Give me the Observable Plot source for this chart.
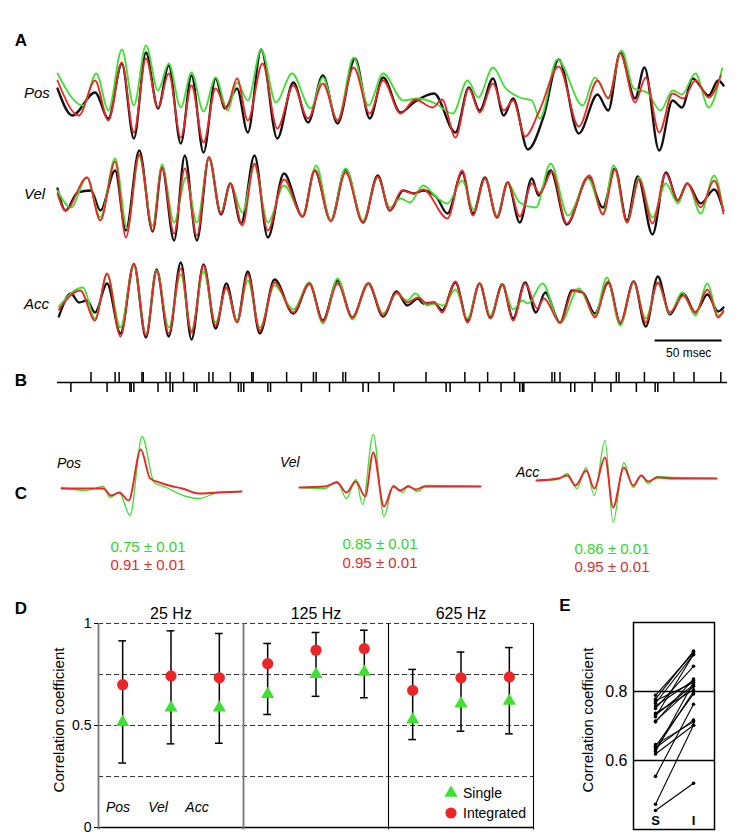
<!DOCTYPE html>
<html><head><meta charset="utf-8">
<script src="https://cdn.jsdelivr.net/npm/d3@7"></script>
<script src="https://cdn.jsdelivr.net/npm/@observablehq/plot@0.6"></script>
<style>
body{margin:0;background:#fff;}
#fig{position:relative;width:750px;height:840px;overflow:hidden;font-family:"Liberation Sans",Arial,Helvetica,sans-serif;color:#000;background:#fff;}
.lab{position:absolute;transform:translate(-50%,-50%);white-space:nowrap;line-height:1;}
.labl{position:absolute;transform:translate(0,-50%);white-space:nowrap;line-height:1;}
.rot{position:absolute;transform:translate(-50%,-50%) rotate(-90deg);white-space:nowrap;line-height:1;}
svg{overflow:visible;}
</style></head><body><div id="fig"></div><script>
// ---------------- DATA ----------------
// Panel A: time (ms) / normalized amplitude, read at extrema of the traces
const posActual = [[0,12],[11,-15],[28,8],[38,-18],[48,37],[57,-38],[66,48],[75,-8],[83,35],[92,-43],[100,25],[109,-52],[118,22],[125,-8],[134,12],[142,-32],[152,51],[164,-38],[176,18],[187,-22],[198,25],[209,-23],[222,42],[233,-18],[243,23],[256,-12],[266,-2],[281,7],[297,-32],[307,13],[315,-10],[325,22],[333,-15],[340,2],[351,-49],[363,-15],[374,41],[389,-33],[403,6],[411,-10],[420,48],[431,2],[438,33],[449,-50],[459,0],[466,-7],[474,22],[486,5],[493,20],[497,15]];
const posSingle = [[0,27],[19,-5],[29,27],[38,-10],[48,51],[57,-5],[66,55],[75,10],[83,37],[92,-7],[100,28],[109,-11],[118,23],[127,-10],[134,18],[142,0],[152,51],[163,-2],[175,27],[189,-8],[198,23],[209,-20],[221,43],[232,-5],[243,27],[258,0],[269,2],[282,-3],[295,-13],[306,20],[314,3],[325,33],[334,13],[345,3],[354,0],[360,-18],[373,41],[392,-5],[401,23],[411,3],[421,50],[430,12],[440,8],[450,-10],[459,10],[466,6],[476,27],[486,-7],[496,32]];
const posIntegrated = [[0,20],[16,-15],[28,20],[38,-20],[48,38],[57,-32],[66,42],[75,-7],[83,27],[92,-37],[100,15],[109,-42],[118,12],[126,-8],[134,22],[142,-20],[153,37],[164,-28],[176,15],[187,-18],[198,17],[209,-20],[221,33],[233,-13],[243,20],[256,-13],[267,1],[280,-7],[287,1],[297,-37],[307,12],[315,-12],[325,17],[333,-10],[340,0],[349,-36],[360,-9],[374,34],[389,-26],[403,20],[411,2],[420,47],[431,-2],[439,23],[449,-32],[459,7],[467,2],[476,20],[486,3],[495,25]];

const velActual = [[0,7],[6,-15],[15,3],[25,5],[32,-15],[43,25],[51,-35],[61,45],[71,-36],[78,28],[87,-45],[95,40],[104,-45],[113,38],[122,-19],[129,12],[137,-28],[147,40],[157,-42],[169,22],[183,-21],[192,25],[204,-25],[215,26],[228,-27],[239,20],[248,-15],[258,5],[266,2],[273,5],[283,-2],[291,-18],[302,23],[310,-18],[319,18],[328,-22],[336,13],[345,-27],[354,17],[359,0],[368,25],[380,-29],[396,18],[407,-12],[416,27],[425,-25],[433,19],[444,-39],[454,23],[463,-5],[470,12],[480,-8],[490,6],[497,-15]];
const velSingle = [[0,5],[10,-12],[22,18],[32,-22],[43,37],[52,-33],[61,39],[71,-30],[78,31],[87,-27],[96,18],[104,-27],[113,37],[122,-17],[129,12],[138,-17],[147,30],[157,-27],[169,10],[183,-20],[193,30],[204,-25],[215,27],[228,-25],[239,18],[248,-12],[256,-3],[263,-7],[273,10],[283,-2],[291,-8],[302,15],[311,-15],[319,17],[328,-20],[336,12],[345,-7],[357,-12],[368,32],[381,-20],[396,17],[407,-18],[415,30],[425,-27],[434,18],[444,-22],[454,12],[463,-8],[470,12],[480,-18],[490,20],[497,-15]];
const velIntegrated = [[0,2],[6,-15],[22,18],[32,-25],[43,34],[51,-42],[61,41],[71,-35],[78,28],[87,-38],[95,27],[104,-40],[113,38],[122,-18],[129,12],[138,-30],[147,32],[157,-35],[169,16],[183,-21],[192,25],[204,-26],[215,23],[228,-27],[239,19],[248,-15],[257,5],[266,2],[273,6],[291,-23],[302,25],[310,-20],[319,17],[328,-22],[336,13],[345,-21],[354,12],[360,2],[369,24],[380,-28],[397,20],[407,-19],[416,26],[425,-27],[434,16],[444,-28],[454,22],[463,-5],[470,12],[480,-12],[490,15],[497,-18]];

const accActual = [[1,-14],[10,9],[16,0],[22,2],[28,-10],[37,19],[47,-31],[57,38],[66,-35],[74,33],[83,-34],[92,40],[100,-37],[109,38],[118,-26],[126,19],[134,-19],[142,31],[151,-31],[162,23],[176,-11],[188,19],[198,-18],[209,22],[220,-15],[232,19],[243,-14],[253,11],[261,-3],[269,4],[273,-1],[281,0],[287,-8],[297,20],[306,-18],[315,19],[323,-15],[332,18],[340,-16],[349,20],[357,-10],[364,10],[375,-20],[384,12],[392,10],[401,-11],[411,20],[420,-21],[430,21],[439,-24],[448,26],[457,-12],[467,9],[476,-10],[485,8],[493,-9],[497,-5]];
const accSingle = [[1,-4],[19,15],[28,-16],[37,28],[47,-25],[57,37],[66,-32],[74,32],[83,-25],[92,28],[100,-28],[109,31],[118,-20],[126,14],[134,-18],[142,22],[151,-25],[162,17],[176,-7],[188,20],[198,-21],[209,24],[220,-17],[232,19],[243,-11],[253,9],[261,2],[267,9],[276,-3],[282,-1],[288,-3],[297,13],[306,-16],[315,19],[323,-13],[332,17],[340,-7],[347,2],[351,-1],[362,19],[375,-21],[389,14],[401,-13],[410,25],[420,-23],[430,20],[439,-16],[448,19],[457,-11],[466,10],[476,-13],[485,19],[493,-13],[497,-10]];
const accIntegrated = [[1,-7],[17,12],[28,-18],[37,29],[47,-34],[57,39],[66,-33],[74,31],[83,-31],[92,34],[100,-30],[109,37],[118,-23],[126,15],[134,-20],[142,28],[151,-28],[162,20],[176,-10],[188,19],[198,-19],[209,19],[220,-15],[232,19],[243,-13],[253,10],[261,0],[269,5],[276,-1],[281,0],[287,-10],[297,21],[306,-20],[315,19],[323,-16],[332,18],[340,-18],[349,19],[358,-6],[363,4],[375,-20],[385,12],[392,10],[401,-15],[411,21],[420,-20],[430,21],[439,-20],[448,20],[457,-10],[467,7],[476,-10],[485,13],[493,-15],[497,-8]];

const traceDomainMs = [0, 500];
const scaleBarMs = 50;
const scaleBarEndMs = 496;

// Panel B: spike times (ms)
const spikesUpper = [25,43,46,63,64,81,84,94,113,116,129,145,146,171,191,193,213,215,240,275,304,321,341,369,371,375,401,417,419,438,460,475,495];
const spikesLower = [10,37,54,55,57,75,84,86,102,104,135,137,139,157,159,182,203,228,232,251,290,293,315,331,345,347,348,383,386,399,413,432,446,448];

// Panel C: kernels (ms from kernel start / amplitude)
const posCSingle = [[0,1],[18,-2],[31,2],[36,-9],[43,-4],[51,-27],[60,52],[69,6],[78,1],[93,-8],[102,-10],[117,-4],[134,-3]];
const posCIntegrated = [[0,0],[31,0],[37,-7],[43,-4],[50,-12],[59,39],[66,10],[73,6],[80,3],[90,0],[102,-5],[116,-4],[134,-3]];
const velCSingle = [[0,0],[19,-1],[28,6],[35,-11],[42,8],[47,-17],[55,53],[63,-29],[70,2],[77,-5],[81,2],[88,-4],[95,2],[135,1]];
const velCIntegrated = [[0,0],[19,1],[28,5],[35,-5],[42,6],[49,-9],[55,35],[63,-19],[70,1],[75,-3],[81,1],[87,-2],[93,1],[135,1]];
const accCSingle = [[0,-1],[16,0],[23,6],[30,-9],[37,12],[43,-16],[51,39],[57,-43],[65,17],[72,-8],[78,4],[83,-4],[90,3],[103,2],[134,1]];
const accCIntegrated = [[0,-1],[16,1],[23,4],[29,-6],[37,9],[43,-9],[51,22],[57,-28],[65,12],[72,-6],[78,4],[83,-2],[90,2],[103,1],[134,1]];
const cSingleText = ["0.75 \u00b1 0.01", "0.85 \u00b1 0.01", "0.86 \u00b1 0.01"];
const cIntegratedText = ["0.91 \u00b1 0.01", "0.95 \u00b1 0.01", "0.95 \u00b1 0.01"];

// Panel D
const freqs = ["25 Hz", "125 Hz", "625 Hz"];
const kinematics = ["Pos", "Vel", "Acc"];
const singleMean = [0.516, 0.587, 0.587, 0.653, 0.751, 0.762, 0.528, 0.607, 0.620];
const singleSD = [0.200, 0.177, 0.174, 0.099, 0.108, 0.126, 0.097, 0.135, 0.161];
const integratedMean = [0.700, 0.743, 0.734, 0.803, 0.869, 0.877, 0.672, 0.734, 0.738];
const integratedSD = [0.215, 0.221, 0.217, 0.099, 0.087, 0.090, 0.103, 0.126, 0.144];
const gridLevelsD = [0.25, 0.5, 0.75, 1];
const yTicksD = [0, 0.5, 1];

// Panel E
const eSingle = [0.789, 0.778, 0.773, 0.766, 0.758, 0.751, 0.737, 0.732, 0.727, 0.714, 0.712, 0.646, 0.641, 0.637, 0.631, 0.626, 0.619, 0.554, 0.473, 0.455];
const eIntegrated = [0.912, 0.917, 0.826, 0.907, 0.832, 0.873, 0.805, 0.819, 0.907, 0.815, 0.836, 0.712, 0.793, 0.717, 0.800, 0.826, 0.702, 0.763, 0.702, 0.534];
const yTicksE = [0.6, 0.8];

// ---------------- STYLE ----------------
const BLACK = "#111111", GREEN = "#3ee032", RED = "#ec2626";
const GREEN_TXT = "#2fd62a", RED_TXT = "#e42a2a";
const FONT = "'Liberation Sans', Arial, Helvetica, sans-serif";
const fig = document.getElementById("fig");

function place(node, left, top) {
  node.style.position = "absolute";
  node.style.left = left + "px";
  node.style.top = top + "px";
  fig.appendChild(node);
}
function label(text, cx, cy, css, cls = "lab") {
  const d = document.createElement("div");
  d.className = cls;
  d.textContent = text;
  d.style.left = cx + "px";
  d.style.top = cy + "px";
  Object.assign(d.style, css || {});
  fig.appendChild(d);
  return d;
}
const baseStyle = {background: "transparent", fontFamily: FONT, overflow: "visible"};
const line = (data, color, w) => Plot.line(data, {x: d => d[0], y: d => d[1], stroke: color, strokeWidth: w, curve: "monotone-x"});

// ---------------- PANEL A ----------------
function traceRow(actual, single, integrated) {
  return Plot.plot({
    width: 750, height: 130, marginLeft: 57, marginRight: 23, marginTop: 0, marginBottom: 0,
    x: {domain: traceDomainMs, axis: null}, y: {domain: [-65, 65], axis: null},
    style: baseStyle,
    marks: [line(actual, BLACK, 2.3), line(single, GREEN, 1.8), line(integrated, RED, 1.8)]
  });
}
place(traceRow(posActual, posSingle, posIntegrated), 0, 35);
place(traceRow(velActual, velSingle, velIntegrated), 0, 130);
place(traceRow(accActual, accSingle, accIntegrated), 0, 237);

// scale bar
place(Plot.plot({
  width: 750, height: 30, marginLeft: 57, marginRight: 23, marginTop: 10, marginBottom: 0,
  x: {domain: traceDomainMs, axis: null}, y: {domain: [0, 1], axis: null},
  style: {...baseStyle, fontSize: "12px"},
  marks: [
    Plot.ruleY([{a: scaleBarEndMs - scaleBarMs, b: scaleBarEndMs, y: 1}], {x1: "a", x2: "b", y: "y", stroke: "#000", strokeWidth: 2}),
    Plot.text([{t: scaleBarEndMs - scaleBarMs / 2, y: 0}], {x: "t", y: "y", text: () => scaleBarMs + " msec", dy: -7, fill: "#000"})
  ]
}), 0, 330);

// ---------------- PANEL B ----------------
place(Plot.plot({
  width: 750, height: 30, marginLeft: 57, marginRight: 23, marginTop: 0, marginBottom: 0,
  x: {domain: traceDomainMs, axis: null}, y: {domain: [-1.5, 1.5], axis: null},
  style: baseStyle,
  marks: [
    Plot.ruleY([0], {stroke: "#000", strokeWidth: 1.6}),
    Plot.ruleX(spikesUpper, {x: d => d, y1: 0, y2: 1, stroke: "#000", strokeWidth: 1.5}),
    Plot.ruleX(spikesLower, {x: d => d, y1: -1, y2: 0, stroke: "#000", strokeWidth: 1.5})
  ]
}), 0, 367);

// ---------------- PANEL C ----------------
function kernel(single, integrated, domainMax, w) {
  return Plot.plot({
    width: w, height: 100, margin: 0,
    x: {domain: [0, domainMax], axis: null}, y: {domain: [-50, 50], axis: null},
    style: baseStyle,
    marks: [line(single, GREEN, 1.3), line(integrated, RED, 1.9)]
  });
}
place(kernel(posCSingle, posCIntegrated, 134, 180), 61, 438);
place(kernel(velCSingle, velCIntegrated, 135, 181), 299, 437);
place(kernel(accCSingle, accCIntegrated, 134, 180), 536, 429);

// ---------------- PANEL D ----------------
const rowsD = freqs.flatMap((f, i) => kinematics.map((k, j) => {
  const n = i * 3 + j;
  return {freq: f, kin: k, pos: i * 3 + j + 0.5, s: singleMean[n], ssd: singleSD[n], im: integratedMean[n], isd: integratedSD[n]};
}));
place(Plot.plot({
  width: 750, height: 242, marginLeft: 98, marginRight: 217, marginTop: 25, marginBottom: 13,
  x: {domain: [0, 9], axis: null}, y: {domain: [0, 1], axis: null},
  style: {...baseStyle, fontSize: "13px"},
  marks: [
    Plot.ruleY(gridLevelsD, {stroke: "#333", strokeDasharray: "5,3", strokeWidth: 1}),
    Plot.ruleY([0], {stroke: "#000", strokeWidth: 1.3}),
    Plot.ruleX([0, 3], {x: d => d, y1: -0.012, y2: 1, stroke: "#777", strokeWidth: 1.8}),
    Plot.ruleX([6, 9], {x: d => d, y1: -0.012, y2: 1, stroke: "#000", strokeWidth: 1.1}),
    Plot.axisY(yTicksD, {tickSize: 4, tickPadding: 3, fontSize: 14, tickFormat: d => String(d), label: null}),
    Plot.text(freqs, {x: (d, i) => i * 3 + 1.5, frameAnchor: "top", lineAnchor: "middle", dy: -10, fontSize: 16, fill: "#000"}),
    Plot.ruleX(rowsD, {x: "pos", y1: d => d.s - d.ssd, y2: d => d.im + d.isd, stroke: "#000", strokeWidth: 1.5}),
    Plot.ruleY(rowsD, {y: d => d.im + d.isd, x1: d => d.pos - 0.08, x2: d => d.pos + 0.08, stroke: "#000", strokeWidth: 1.5}),
    Plot.ruleY(rowsD, {y: d => d.s - d.ssd, x1: d => d.pos - 0.08, x2: d => d.pos + 0.08, stroke: "#000", strokeWidth: 1.5}),
    Plot.dot(rowsD, {x: "pos", y: "s", symbol: "triangle", r: 4.9, fill: GREEN, stroke: "none"}),
    Plot.dot(rowsD, {x: "pos", y: "im", r: 5.6, fill: RED, stroke: "none"})
  ]
}), 0, 598);

// ---------------- PANEL E ----------------
const pairsE = eSingle.map((s, i) => ({s, i: eIntegrated[i]}));
place(Plot.plot({
  width: 210, height: 250, marginLeft: 93, marginRight: 36, marginTop: 32, marginBottom: 11,
  x: {type: "point", domain: ["S", "I"], padding: 0.54, axis: null},
  y: {domain: [0.4, 1.0], axis: null},
  style: {...baseStyle, fontSize: "15px"},
  marks: [
    Plot.frame({stroke: "#000", strokeWidth: 1.5}),
    Plot.ruleY(yTicksE, {stroke: "#000", strokeWidth: 1.4}),
    Plot.axisY(yTicksE, {tickSize: 0, tickPadding: 6, fontSize: 16, tickFormat: d => d.toFixed(1), label: null}),
    Plot.link(pairsE, {x1: () => "S", x2: () => "I", y1: "s", y2: "i", stroke: "#000", strokeWidth: 1.1}),
    Plot.dot(pairsE, {x: () => "S", y: "s", r: 1.8, fill: "#000", stroke: "none"}),
    Plot.dot(pairsE, {x: () => "I", y: "i", r: 1.8, fill: "#000", stroke: "none"}),
    Plot.text(["S", "I"], {x: d => d, frameAnchor: "bottom", lineAnchor: "middle", dy: -9, fontWeight: "bold", fontSize: 13, fill: "#000"})
  ]
}), 540, 590);

// ---------------- TEXT ----------------
const letter = {fontWeight: "bold", fontSize: "17px"};
label("A", 21, 40, letter);
label("B", 21, 380, letter);
label("C", 21, 493, letter);
label("D", 21, 608, letter);
label("E", 565, 605, letter);

const ital = {fontStyle: "italic", fontSize: "15px"};
label("Pos", 24, 92, ital, "labl");
label("Vel", 24, 193, ital, "labl");
label("Acc", 24, 303, ital, "labl");

const italC = {fontStyle: "italic", fontSize: "14px"};
label("Pos", 57, 463, italC, "labl");
label("Vel", 280, 462, italC, "labl");
label("Acc", 516, 472, italC, "labl");

const cx = [148, 380, 612], cyS = [546, 543, 548], cyI = [564, 562, 566];
cSingleText.forEach((t, i) => label(t, cx[i], cyS[i], {color: GREEN_TXT, fontSize: "15px"}));
cIntegratedText.forEach((t, i) => label(t, cx[i], cyI[i], {color: RED_TXT, fontSize: "15px"}));

label("Correlation coefficient", 58, 720, {fontSize: "15px"}, "rot");
label("Correlation coefficient", 587, 720, {fontSize: "15px"}, "rot");
const italD = {fontStyle: "italic", fontSize: "14px"};
kinematics.forEach((k, i) => label(k, [118, 158, 197][i], 807, italD));

// legend in D
function legendItem(symbol, color, text, cy) {
  const ns = "http://www.w3.org/2000/svg";
  const s = document.createElementNS(ns, "svg");
  s.setAttribute("width", 14); s.setAttribute("height", 14);
  const p = document.createElementNS(ns, "path");
  p.setAttribute("d", d3.symbol(symbol === "triangle" ? d3.symbolTriangle : d3.symbolCircle, symbol === "triangle" ? Math.PI * 4.9 * 4.9 : Math.PI * 5.6 * 5.6)());
  p.setAttribute("transform", "translate(7,7)");
  p.setAttribute("fill", color);
  s.appendChild(p);
  place(s, 444, cy - 7);
  label(text, 463, cy, {fontSize: "14px"}, "labl");
}
legendItem("triangle", GREEN, "Single", 793);
legendItem("circle", RED, "Integrated", 813);
</script></body></html>
